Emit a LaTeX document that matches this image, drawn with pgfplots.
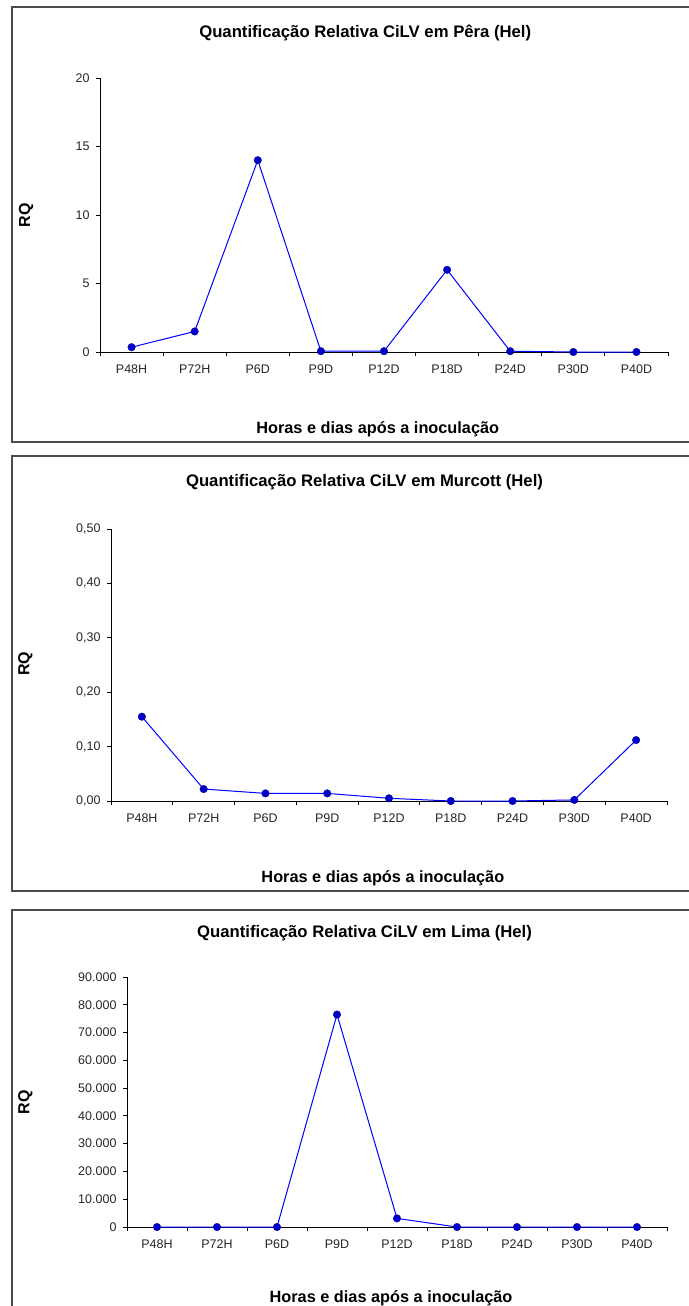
\documentclass[border=0pt]{standalone}
\usepackage{fontspec}
\setmainfont{Liberation Sans}
\usepackage{pgfplots}
\pgfplotsset{compat=1.18}
\definecolor{rline}{RGB}{80,80,188}
\definecolor{rmark}{RGB}{0,0,128}
\definecolor{frm}{RGB}{75,75,75}

\pgfplotsset{excel/.style={
  scale only axis,
  axis x line*=bottom, axis y line*=left,
  xmin=-0.5, xmax=8.5, ymin=0,
  scaled y ticks=false,
  xtick={0,...,8},
  xticklabels={P48H,P72H,P6D,P9D,P12D,P18D,P24D,P30D,P40D},
  major x tick style={draw=none},
  minor xtick={-0.5,0.5,...,8.5},
  tick align=outside,
  major tick length=4pt, minor tick length=4pt,
  every tick/.style={black, line width=0.9pt},
  axis line style={black, line width=0.9pt},
  tick label style={font=\fontsize{12.5}{13}\selectfont, text=black!85},
  xticklabel style={yshift=-5pt},
  yticklabel style={xshift=-3pt},
  title style={font=\bfseries\fontsize{16.7}{17}\selectfont, anchor=center, yshift=-6pt},
  xlabel style={font=\bfseries\fontsize{16.3}{17}\selectfont, anchor=center},
  ylabel style={font=\bfseries\fontsize{16}{17}\selectfont, anchor=center},
  clip=false,
  every axis plot/.append style={rline, line width=1pt, mark=diamond*, mark size=3.8pt,
     mark options={fill=rmark, draw=rmark, line width=0.3pt}},
}}

\begin{document}
\begin{tikzpicture}
% panel frames
\draw[frm, line width=1.4pt] (12pt,-7pt) rectangle (720pt,-442pt);
\draw[frm, line width=1.4pt] (12pt,-456pt) rectangle (720pt,-891pt);
\draw[frm, line width=1.4pt] (12pt,-910pt) rectangle (720pt,-1340pt);

% Panel 1: Pera
\begin{axis}[excel,
  at={(100pt,-352pt)}, anchor=south west,
  width=568pt, height=274pt,
  ymax=20, ytick={0,5,10,15,20}, yticklabels={0,5,10,15,20},
  title={Quantificação Relativa CiLV em Pêra (Hel)},
  title style={at={(axis description cs:0.467,1.164)}},
  xlabel={Horas e dias após a inoculação},
  xlabel style={at={(axis description cs:0.489,-0.281)}},
  ylabel={RQ},
  ylabel style={at={(axis description cs:-0.130,0.5)}},
]
\addplot coordinates {(0,0.35) (1,1.5) (2,14.0) (3,0.06) (4,0.06) (5,6.0) (6,0.06) (7,0.0) (8,0.0)};
\end{axis}

% Panel 2: Murcott
\begin{axis}[excel,
  at={(111pt,-801pt)}, anchor=south west,
  width=556pt, height=272pt,
  ymax=0.5, ytick={0,0.1,0.2,0.3,0.4,0.5},
  yticklabels={{0,00},{0,10},{0,20},{0,30},{0,40},{0,50}},
  title={Quantificação Relativa CiLV em Murcott (Hel)},
  title style={at={(axis description cs:0.456,1.173)}},
  xlabel={Horas e dias após a inoculação},
  xlabel style={at={(axis description cs:0.489,-0.283)}},
  ylabel={RQ},
  ylabel style={at={(axis description cs:-0.154,0.504)}},
]
\addplot coordinates {(0,0.155) (1,0.022) (2,0.014) (3,0.014) (4,0.005) (5,0.0) (6,0.0) (7,0.002) (8,0.112)};
\end{axis}

% Panel 3: Lima
\begin{axis}[excel,
  at={(127pt,-1227pt)}, anchor=south west,
  width=540pt, height=250pt,
  ymax=90000, ytick={0,10000,20000,30000,40000,50000,60000,70000,80000,90000},
  yticklabels={0,10.000,20.000,30.000,40.000,50.000,60.000,70.000,80.000,90.000},
  title={Quantificação Relativa CiLV em Lima (Hel)},
  title style={at={(axis description cs:0.440,1.176)}},
  xlabel={Horas e dias após a inoculação},
  xlabel style={at={(axis description cs:0.489,-0.284)}},
  ylabel={RQ},
  ylabel style={at={(axis description cs:-0.188,0.5)}},
]
\addplot coordinates {(0,0) (1,0) (2,0) (3,76500) (4,3100) (5,0) (6,0) (7,0) (8,0)};
\end{axis}

\pgfresetboundingbox
\useasboundingbox (0,0) rectangle (688pt,-1306pt);
\end{tikzpicture}
\end{document}
